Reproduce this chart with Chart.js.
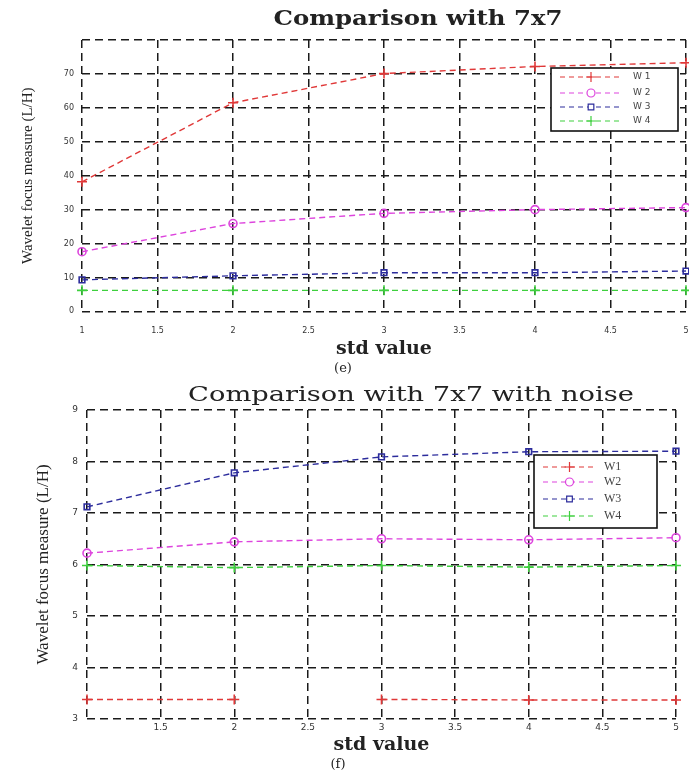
<!DOCTYPE html>
<html>
<head>
<meta charset="utf-8">
<script src="https://cdn.jsdelivr.net/npm/chart.js@4.4.1/dist/chart.umd.min.js"></script>
<style>
  body { margin: 0; background: #fff; }
  #wrap { position: relative; width: 689px; height: 780px; }
  canvas { position: absolute; left: 0; }
</style>
</head>
<body>
<div id="wrap">
  <canvas id="chartE" width="689" height="378" style="top:0"></canvas>
  <canvas id="chartF" width="689" height="402" style="top:378px"></canvas>
</div>
<script>
// std value (x) and tick labels
var stdValues = [1, 2, 3, 4, 5];
var xTicks = [1, 1.5, 2, 2.5, 3, 3.5, 4, 4.5, 5];
var yTicksE = [0, 10, 20, 30, 40, 50, 60, 70, 80];
var yTicksF = [3, 4, 5, 6, 7, 8, 9];

// (e) Comparison with 7x7
var e_W1 = [38.2, 61.5, 70.1, 72.2, 73.3];
var e_W2 = [17.6, 25.9, 28.9, 30.0, 30.6];
var e_W3 = [9.3, 10.5, 11.4, 11.4, 11.9];
var e_W4 = [6.2, 6.2, 6.2, 6.2, 6.2];

// (f) Comparison with 7x7 with noise
var f_W1 = [3.38, 3.38, 3.38, 3.37, 3.37];
var f_W2 = [6.22, 6.44, 6.50, 6.48, 6.52];
var f_W3 = [7.12, 7.78, 8.09, 8.19, 8.20];
var f_W4 = [5.98, 5.94, 5.98, 5.95, 5.98];

var RED = "#e03838", MAG = "#dd44dd", BLUE = "#2c2c9c", GREEN = "#3ed03e";

function pts(vals) {
  return vals.map(function (v, i) { return { x: stdValues[i], y: v }; });
}

function series(label, vals, color, style, extra) {
  var ds = {
    label: label,
    data: pts(vals),
    borderColor: color,
    backgroundColor: color,
    borderWidth: 1.4,
    borderDash: [6, 4],
    pointStyle: style,
    pointRadius: style === "cross" ? 5 : 4,
    pointBorderColor: color,
    pointBackgroundColor: "rgba(255,255,255,0)",
    pointBorderWidth: 1.6,
    tension: 0,
    clip: false
  };
  return Object.assign(ds, extra || {});
}

// legend box drawn inside the plot, like the matlab one
var boxLegend = {
  id: "boxLegend",
  afterDraw: function (chart, args, o) {
    var ctx = chart.ctx, a = chart.chartArea;
    var x = a.right - o.right - o.width, y = a.top + o.top;
    ctx.save();
    ctx.fillStyle = "#fff";
    ctx.fillRect(x, y, o.width, o.height);
    ctx.setLineDash([]);
    ctx.strokeStyle = "#111";
    ctx.lineWidth = 1.6;
    ctx.strokeRect(x, y, o.width, o.height);
    chart.data.datasets.forEach(function (ds, i) {
      var ry = y + o.rows[i];
      ctx.strokeStyle = ds.borderColor;
      ctx.lineWidth = 1.2;
      ctx.setLineDash([5, 4]);
      ctx.beginPath();
      ctx.moveTo(x + o.lineFrom, ry);
      ctx.lineTo(x + o.lineTo, ry);
      ctx.stroke();
      ctx.setLineDash([]);
      ctx.fillStyle = "rgba(255,255,255,1)";
      Chart.helpers.drawPoint(ctx, { pointStyle: ds.pointStyle, radius: ds.pointRadius, borderWidth: 1.5, rotation: 0 },
        x + (o.lineFrom + o.lineTo) / 2, ry);
      ctx.fillStyle = "#444";
      ctx.font = o.font;
      ctx.textBaseline = "middle";
      ctx.textAlign = "left";
      ctx.fillText(ds.label, x + o.textX, ry);
    });
    ctx.restore();
  }
};

// main title is off-centre and stretched sideways in the scan, so drawn by hand
var heading = {
  id: "heading",
  afterDraw: function (chart, args, o) {
    var ctx = chart.ctx;
    ctx.save();
    ctx.translate(o.x, o.y);
    ctx.scale(o.stretch, 1);
    ctx.font = o.font;
    ctx.fillStyle = "#222";
    ctx.textAlign = "center";
    ctx.textBaseline = "middle";
    ctx.fillText(o.text, 0, 0);
    ctx.restore();
  }
};

var gridStyle = {
  color: "#1a1a1a",
  lineWidth: 1.5,
  drawTicks: false
};

function makeChart(id, cfg) {
  return new Chart(document.getElementById(id), {
    type: "line",
    data: { datasets: cfg.datasets },
    plugins: [boxLegend, heading],
    options: {
      responsive: false,
      animation: false,
      layout: { autoPadding: false, padding: { top: cfg.top, right: cfg.right, left: 0, bottom: 0 } },
      plugins: {
        legend: { display: false },
        tooltip: { enabled: false },
        title: { display: false },
        subtitle: {
          display: true,
          position: "bottom",
          text: cfg.caption,
          color: "#222",
          font: { family: "DejaVu Serif", size: 13 },
          padding: { top: 0, bottom: cfg.capPad }
        },
        heading: cfg.heading,
        boxLegend: cfg.legend
      },
      scales: {
        x: {
          type: "linear",
          min: 1, max: 5,
          afterBuildTicks: function (s) { s.ticks = xTicks.map(function (v) { return { value: v }; }); },
          afterFit: function (s) {
            s.height = cfg.xHeight;
            s.paddingLeft = 0;
            s.paddingRight = 0;
          },
          grid: gridStyle,
          border: { display: false, dash: [8, 5] },
          ticks: {
            padding: cfg.xTickPad,
            color: "#333",
            font: { family: "DejaVu Sans", size: cfg.tickSize },
            maxRotation: 0,
            callback: cfg.xLabel
          },
          title: {
            display: true,
            text: "std value",
            color: "#222",
            font: { family: "DejaVu Serif", size: 19, weight: "bold" },
            padding: { top: 0, bottom: cfg.xTitlePad }
          }
        },
        y: {
          min: cfg.yTicks[0],
          max: cfg.yTicks[cfg.yTicks.length - 1],
          afterBuildTicks: function (s) { s.ticks = cfg.yTicks.map(function (v) { return { value: v }; }); },
          afterFit: function (s) {
            s.width = cfg.yWidth;
            s.paddingTop = 0;
            s.paddingBottom = 0;
          },
          grid: gridStyle,
          border: { display: false, dash: [8, 5] },
          ticks: {
            padding: cfg.yTickPad,
            color: "#333",
            font: { family: "DejaVu Sans", size: cfg.tickSize },
            callback: cfg.yLabel
          },
          title: {
            display: true,
            text: "Wavelet focus measure (L/H)",
            color: "#222",
            font: { family: "Liberation Serif", size: cfg.yTitleSize },
            padding: { top: cfg.yTitlePad, bottom: 0 }
          }
        }
      }
    }
  });
}

makeChart("chartE", {
  datasets: [
    series("W 1", e_W1, RED, "cross"),
    series("W 2", e_W2, MAG, "circle"),
    series("W 3", e_W3, BLUE, "rect"),
    series("W 4", e_W4, GREEN, "cross")
  ],
  top: 40, right: 3, yWidth: 82, xHeight: 49.4,
  capPad: 1.6, caption: "(e)", xTitlePad: 0, xTickPad: 15, yTickPad: 8,
  tickSize: 8, yTitleSize: 15, yTitlePad: 19,
  yTicks: yTicksE,
  yLabel: function (v) { return v === 80 ? "" : v; },
  xLabel: function (v) { return v; },
  heading: { text: "Comparison with 7x7", x: 418, y: 20, stretch: 1.22, font: "bold 20px 'DejaVu Serif'" },
  legend: { right: 8, top: 28, width: 127, height: 63, rows: [9, 25, 39, 53],
            lineFrom: 9, lineTo: 71, textX: 82, font: "9px 'DejaVu Sans'" }
});

makeChart("chartF", {
  datasets: [
    series("W1", f_W1, RED, "cross", { segment: { borderColor: function (c) { return c.p0DataIndex === 1 ? "rgba(0,0,0,0)" : undefined; } } }),
    series("W2", f_W2, MAG, "circle"),
    series("W3", f_W3, BLUE, "rect"),
    series("W4", f_W4, GREEN, "cross")
  ],
  top: 32, right: 13, yWidth: 87, xHeight: 38.2,
  capPad: 7.2, caption: "(f)", xTitlePad: 0.8, xTickPad: 3, yTickPad: 9,
  tickSize: 9, yTitleSize: 17, yTitlePad: 33,
  yTicks: yTicksF,
  yLabel: function (v) { return v; },
  xLabel: function (v) { return v === 1 ? "" : v; },
  heading: { text: "Comparison with 7x7 with noise", x: 411, y: 18, stretch: 1.3, font: "21px 'DejaVu Serif'" },
  legend: { right: 19, top: 45, width: 123, height: 73, rows: [12, 27, 44, 61],
            lineFrom: 9, lineTo: 62, textX: 70, font: "12px 'Liberation Serif'" }
});
</script>
</body>
</html>
